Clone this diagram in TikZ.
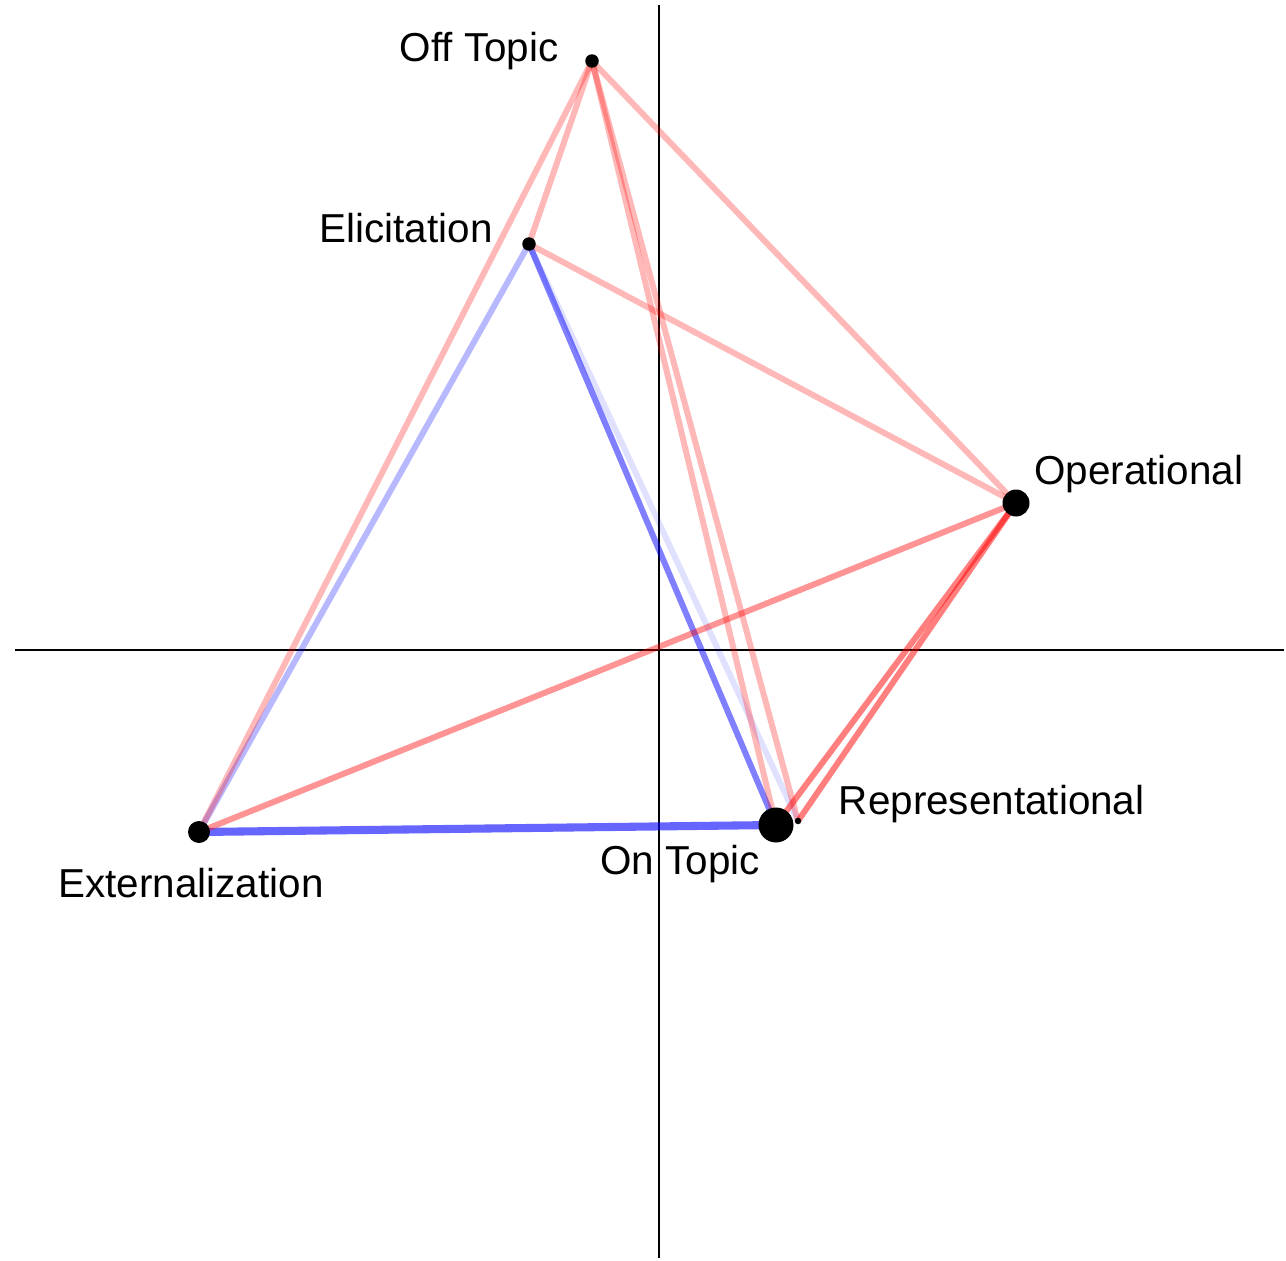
\documentclass[tikz,border=0pt]{standalone}
\usepackage{fontspec}
\setmainfont{Liberation Sans}
\usetikzlibrary{positioning}

\def\EnaAxisLW{1.1pt}
\def\EnaEdgeLW{3.4pt}
\def\EnaEdgeThickLW{4.6pt}
\def\EnaDotTinySize{0.13cm}
\def\EnaDotSmallSize{0.27cm}
\def\EnaDotMidSize{0.44cm}
\def\EnaDotBigSize{0.54cm}
\def\EnaDotHugeSize{0.70cm}
\newcommand{\EnaStyles}{%
  \tikzset{
    enadot/.style={circle, fill=black, draw=none, inner sep=0pt},
    enadotTiny/.style={enadot, minimum size=\EnaDotTinySize},
    enadotSmall/.style={enadot, minimum size=\EnaDotSmallSize},
    enadotMid/.style={enadot, minimum size=\EnaDotMidSize},
    enadotBig/.style={enadot, minimum size=\EnaDotBigSize},
    enadotHuge/.style={enadot, minimum size=\EnaDotHugeSize},
    enalbl/.style={inner sep=0pt, font=\fontsize{23}{27}\selectfont},
    enaaxis/.style={line width=\EnaAxisLW, black},
    enaedge/.style={line width=\EnaEdgeLW, line cap=butt},
    enared/.style={enaedge, draw=red, draw opacity=##1},
    enablue/.style={enaedge, draw=blue, draw opacity=##1},
    enabluethick/.style={enablue=##1, line width=\EnaEdgeThickLW},
  }%
}

\begin{document}
\begin{tikzpicture}[x=0.02cm, y=-0.02cm]
    \EnaStyles
    \useasboundingbox (0,0) rectangle (1286,1261);
    \coordinate (axtop) at (659,5);
    \coordinate (axbot) at (659,1258);
    \coordinate (axleft) at (15,650);
    \coordinate (axright) at (1284,650);
    \draw[enaaxis] (axtop) -- (axbot);
    \draw[enaaxis] (axleft) -- (axright);

    \coordinate (offtopic) at (592,61);
    \coordinate (elicitation) at (529,244);
    \coordinate (operational) at (1016,503);
    \coordinate (externalization) at (199,832);
    \coordinate (ontopic) at (776,825);
    \coordinate (representational) at (798,821);

    \draw[enablue=0.12] (elicitation) -- (representational);
    \draw[enablue=0.28] (elicitation) -- (externalization);
    \draw[enablue=0.5] (elicitation) -- (ontopic);
    \draw[enabluethick=0.6] (externalization) -- (ontopic);

    \draw[enared=0.28] (offtopic) -- (externalization);
    \draw[enared=0.28] (offtopic) -- (elicitation);
    \draw[enared=0.28] (offtopic) -- (operational);
    \draw[enared=0.28] (offtopic) -- (ontopic);
    \draw[enared=0.28] (offtopic) -- (representational);
    \draw[enared=0.28] (elicitation) -- (operational);
    \draw[enared=0.42] (externalization) -- (operational);
    \draw[enared=0.5] (operational) -- (ontopic);
    \draw[enared=0.5] (operational) -- (representational);

    \node[enadotSmall] (offtopicdot) at (offtopic) {};
    \node[enadotSmall] (elicitationdot) at (elicitation) {};
    \node[enadotBig] (operationaldot) at (operational) {};
    \node[enadotMid] (externalizationdot) at (externalization) {};
    \node[enadotHuge] (ontopicdot) at (ontopic) {};
    \node[enadotTiny] (representationaldot) at (representational) {};

    \node[enalbl, left=0.52cm of offtopicdot, yshift=0.2cm] (offtopiclbl) {Off Topic};
    \node[enalbl, left=0.58cm of elicitationdot, yshift=0.32cm] (elicitationlbl) {Elicitation};
    \node[enalbl, right=0.08cm of operationaldot, yshift=0.58cm] (operationallbl) {Operational};
    \node[enalbl, right=0.74cm of representationaldot, yshift=0.33cm] (representationallbl) {Representational};
    \node[enalbl, below=0.04cm of ontopicdot, xshift=-1.92cm] (ontopiclbl) {On Topic};
    \node[enalbl, below=0.5cm of externalizationdot, xshift=-0.16cm] (externalizationlbl) {Externalization};
\end{tikzpicture}
\end{document}
